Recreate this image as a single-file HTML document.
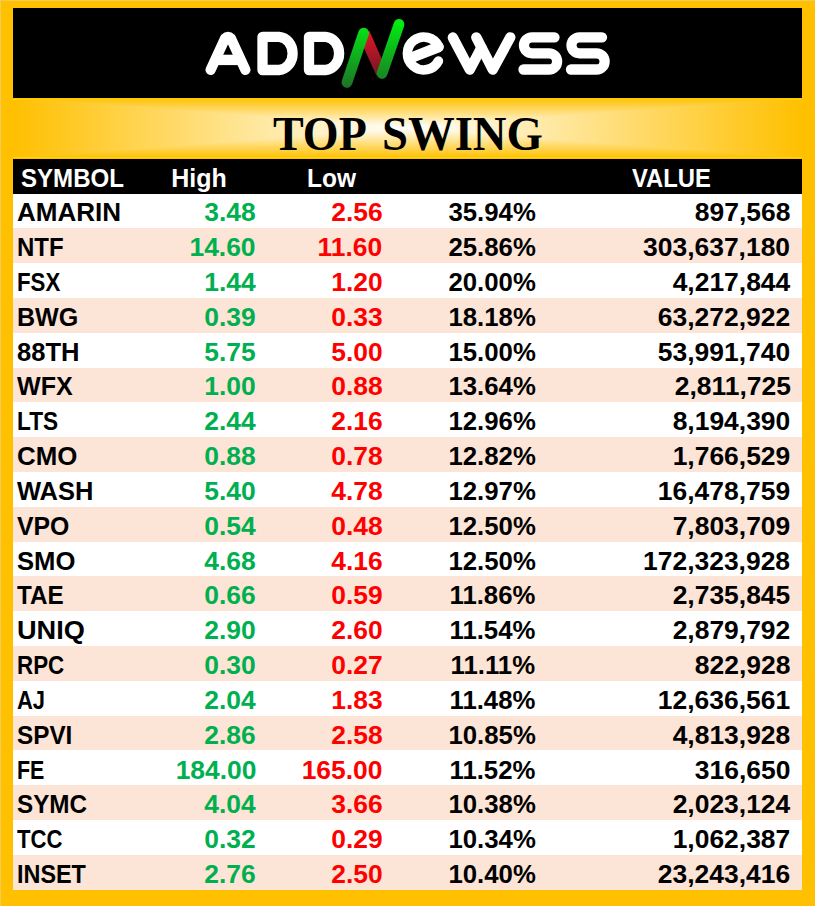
<!DOCTYPE html>
<html><head><meta charset="utf-8"><style>
*{margin:0;padding:0;box-sizing:border-box}
html,body{width:815px;height:906px;overflow:hidden;background:#FFC000}
body{position:relative;font-family:"Liberation Sans",sans-serif;font-weight:bold}
#edge{position:absolute;left:0;top:0;width:815px;height:906px;border-left:1px solid #F3CB5A;border-top:1px solid #F3CB5A}
#logo{position:absolute;left:13px;top:8px;width:789px;height:90.3px;background:#000}
.bl{position:absolute;left:13px;width:789px;height:1.2px;background:#FFD500}
#band{position:absolute;left:13px;top:98px;width:789px;height:60px}
.ti{position:absolute;top:109.5px;font-family:"Liberation Serif",serif;font-weight:bold;font-size:48px;line-height:48px;color:#000;transform-origin:0 50%;white-space:nowrap}
#hdr{position:absolute;left:12.5px;top:158.5px;width:789.5px;height:35.1px;background:#000}
.r{position:absolute;left:13px;width:789px;height:34.8px}
.p{background:#FCE4D6}
.w{background:#fff}
.t{position:absolute;font-size:25px;line-height:25px;white-space:nowrap}
.L{transform-origin:0 50%}
.R{transform-origin:100% 50%}
.n{transform:scaleX(1.057)}
.pc{transform:scaleX(1.03)}
.hd{color:#fff}
.g{color:#00B050}
.rd{color:#FF0000}
.k{color:#000}
</style></head>
<body>
<div id="edge"></div>
<div id="logo"></div>
<svg id="band" width="789" height="60" viewBox="0 0 789 60">
<defs>
<linearGradient id="bt" x1="0" y1="0" x2="0" y2="1"><stop offset="0" stop-color="#FFC000"/><stop offset="1" stop-color="#FFFFFF"/></linearGradient>
<linearGradient id="bb" x1="0" y1="0" x2="0" y2="1"><stop offset="0" stop-color="#FFFFFF"/><stop offset="1" stop-color="#FFC000"/></linearGradient>
<linearGradient id="bl" x1="0" y1="0" x2="1" y2="0"><stop offset="0" stop-color="#FFC000"/><stop offset="1" stop-color="#FFFFFF"/></linearGradient>
<linearGradient id="br" x1="0" y1="0" x2="1" y2="0"><stop offset="0" stop-color="#FFFFFF"/><stop offset="1" stop-color="#FFC000"/></linearGradient>
</defs>
<rect x="0" y="0" width="394.5" height="60" fill="url(#bl)"/>
<rect x="394.5" y="0" width="394.5" height="60" fill="url(#br)"/>
<polygon points="0,0 789,0 394.5,30" fill="url(#bt)"/>
<polygon points="0,60 789,60 394.5,30" fill="url(#bb)"/>
</svg>
<div class="ti" style="left:272.6px;transform:scaleX(0.959)">TOP</div>
<div class="ti" style="left:382.4px;transform:scaleX(0.973)">SWING</div>
<div class="bl" style="top:98.6px"></div>
<div class="bl" style="top:157.1px"></div>
<div id="hdr"></div>
<div class="t hd L" style="top:165.5px;left:20.5px;transform:scaleX(0.9625);">SYMBOL</div>
<div class="t hd L" style="top:165.5px;left:171.3px;">High</div>
<div class="t hd L" style="top:165.5px;left:307px;transform:scaleX(0.9800);">Low</div>
<div class="t hd L" style="top:165.5px;left:632px;transform:scaleX(0.9520);">VALUE</div>
<div class="r w" style="top:193.6px"></div>
<div class="t k L" style="top:200.3px;left:17px;transform:scaleX(1.0406);">AMARIN</div>
<div class="t g R n" style="top:200.3px;right:559.0px">3.48</div>
<div class="t rd R n" style="top:200.3px;right:432.5px">2.56</div>
<div class="t k R pc" style="top:200.3px;right:279.5px">35.94%</div>
<div class="t k R n" style="top:200.3px;right:24.5px">897,568</div>
<div class="r p" style="top:228.4px"></div>
<div class="t k L" style="top:235.3px;left:17px;transform:scaleX(0.9600);">NTF</div>
<div class="t g R n" style="top:235.3px;right:559.0px">14.60</div>
<div class="t rd R n" style="top:235.3px;right:432.5px">11.60</div>
<div class="t k R pc" style="top:235.3px;right:279.5px">25.86%</div>
<div class="t k R n" style="top:235.3px;right:24.5px">303,637,180</div>
<div class="r w" style="top:263.2px"></div>
<div class="t k L" style="top:270.3px;left:17px;transform:scaleX(0.8889);">FSX</div>
<div class="t g R n" style="top:270.3px;right:559.0px">1.44</div>
<div class="t rd R n" style="top:270.3px;right:432.5px">1.20</div>
<div class="t k R pc" style="top:270.3px;right:279.5px">20.00%</div>
<div class="t k R n" style="top:270.3px;right:24.5px">4,217,844</div>
<div class="r p" style="top:298.0px"></div>
<div class="t k L" style="top:305.3px;left:17px;transform:scaleX(1.0035);">BWG</div>
<div class="t g R n" style="top:305.3px;right:559.0px">0.39</div>
<div class="t rd R n" style="top:305.3px;right:432.5px">0.33</div>
<div class="t k R pc" style="top:305.3px;right:279.5px">18.18%</div>
<div class="t k R n" style="top:305.3px;right:24.5px">63,272,922</div>
<div class="r w" style="top:332.8px"></div>
<div class="t k L" style="top:340.3px;left:17px;transform:scaleX(1.0211);">88TH</div>
<div class="t g R n" style="top:340.3px;right:559.0px">5.75</div>
<div class="t rd R n" style="top:340.3px;right:432.5px">5.00</div>
<div class="t k R pc" style="top:340.3px;right:279.5px">15.00%</div>
<div class="t k R n" style="top:340.3px;right:24.5px">53,991,740</div>
<div class="r p" style="top:367.6px"></div>
<div class="t k L" style="top:374.3px;left:17px;transform:scaleX(1.0019);">WFX</div>
<div class="t g R n" style="top:374.3px;right:559.0px">1.00</div>
<div class="t rd R n" style="top:374.3px;right:432.5px">0.88</div>
<div class="t k R pc" style="top:374.3px;right:279.5px">13.64%</div>
<div class="t k R n" style="top:374.3px;right:24.5px">2,811,725</div>
<div class="r w" style="top:402.4px"></div>
<div class="t k L" style="top:409.3px;left:17px;transform:scaleX(0.9049);">LTS</div>
<div class="t g R n" style="top:409.3px;right:559.0px">2.44</div>
<div class="t rd R n" style="top:409.3px;right:432.5px">2.16</div>
<div class="t k R pc" style="top:409.3px;right:279.5px">12.96%</div>
<div class="t k R n" style="top:409.3px;right:24.5px">8,194,390</div>
<div class="r p" style="top:437.2px"></div>
<div class="t k L" style="top:444.3px;left:17px;transform:scaleX(1.0345);">CMO</div>
<div class="t g R n" style="top:444.3px;right:559.0px">0.88</div>
<div class="t rd R n" style="top:444.3px;right:432.5px">0.78</div>
<div class="t k R pc" style="top:444.3px;right:279.5px">12.82%</div>
<div class="t k R n" style="top:444.3px;right:24.5px">1,766,529</div>
<div class="r w" style="top:472.0px"></div>
<div class="t k L" style="top:479.3px;left:17px;transform:scaleX(1.0181);">WASH</div>
<div class="t g R n" style="top:479.3px;right:559.0px">5.40</div>
<div class="t rd R n" style="top:479.3px;right:432.5px">4.78</div>
<div class="t k R pc" style="top:479.3px;right:279.5px">12.97%</div>
<div class="t k R n" style="top:479.3px;right:24.5px">16,478,759</div>
<div class="r p" style="top:506.8px"></div>
<div class="t k L" style="top:514.3px;left:17px;transform:scaleX(0.9922);">VPO</div>
<div class="t g R n" style="top:514.3px;right:559.0px">0.54</div>
<div class="t rd R n" style="top:514.3px;right:432.5px">0.48</div>
<div class="t k R pc" style="top:514.3px;right:279.5px">12.50%</div>
<div class="t k R n" style="top:514.3px;right:24.5px">7,803,709</div>
<div class="r w" style="top:541.6px"></div>
<div class="t k L" style="top:549.3px;left:17px;transform:scaleX(1.0259);">SMO</div>
<div class="t g R n" style="top:549.3px;right:559.0px">4.68</div>
<div class="t rd R n" style="top:549.3px;right:432.5px">4.16</div>
<div class="t k R pc" style="top:549.3px;right:279.5px">12.50%</div>
<div class="t k R n" style="top:549.3px;right:24.5px">172,323,928</div>
<div class="r p" style="top:576.4px"></div>
<div class="t k L" style="top:583.3px;left:17px;transform:scaleX(0.9674);">TAE</div>
<div class="t g R n" style="top:583.3px;right:559.0px">0.66</div>
<div class="t rd R n" style="top:583.3px;right:432.5px">0.59</div>
<div class="t k R pc" style="top:583.3px;right:279.5px">11.86%</div>
<div class="t k R n" style="top:583.3px;right:24.5px">2,735,845</div>
<div class="r w" style="top:611.2px"></div>
<div class="t k L" style="top:618.3px;left:17px;transform:scaleX(1.0862);">UNIQ</div>
<div class="t g R n" style="top:618.3px;right:559.0px">2.90</div>
<div class="t rd R n" style="top:618.3px;right:432.5px">2.60</div>
<div class="t k R pc" style="top:618.3px;right:279.5px">11.54%</div>
<div class="t k R n" style="top:618.3px;right:24.5px">2,879,792</div>
<div class="r p" style="top:646.0px"></div>
<div class="t k L" style="top:653.3px;left:17px;transform:scaleX(0.8939);">RPC</div>
<div class="t g R n" style="top:653.3px;right:559.0px">0.30</div>
<div class="t rd R n" style="top:653.3px;right:432.5px">0.27</div>
<div class="t k R pc" style="top:653.3px;right:279.5px">11.11%</div>
<div class="t k R n" style="top:653.3px;right:24.5px">822,928</div>
<div class="r w" style="top:680.8px"></div>
<div class="t k L" style="top:688.3px;left:17px;transform:scaleX(0.8786);">AJ</div>
<div class="t g R n" style="top:688.3px;right:559.0px">2.04</div>
<div class="t rd R n" style="top:688.3px;right:432.5px">1.83</div>
<div class="t k R pc" style="top:688.3px;right:279.5px">11.48%</div>
<div class="t k R n" style="top:688.3px;right:24.5px">12,636,561</div>
<div class="r p" style="top:715.6px"></div>
<div class="t k L" style="top:723.3px;left:17px;transform:scaleX(0.9717);">SPVI</div>
<div class="t g R n" style="top:723.3px;right:559.0px">2.86</div>
<div class="t rd R n" style="top:723.3px;right:432.5px">2.58</div>
<div class="t k R pc" style="top:723.3px;right:279.5px">10.85%</div>
<div class="t k R n" style="top:723.3px;right:24.5px">4,813,928</div>
<div class="r w" style="top:750.4px"></div>
<div class="t k L" style="top:758.3px;left:17px;transform:scaleX(0.8571);">FE</div>
<div class="t g R n" style="top:758.3px;right:559.0px">184.00</div>
<div class="t rd R n" style="top:758.3px;right:432.5px">165.00</div>
<div class="t k R pc" style="top:758.3px;right:279.5px">11.52%</div>
<div class="t k R n" style="top:758.3px;right:24.5px">316,650</div>
<div class="r p" style="top:785.2px"></div>
<div class="t k L" style="top:792.3px;left:17px;transform:scaleX(0.9696);">SYMC</div>
<div class="t g R n" style="top:792.3px;right:559.0px">4.04</div>
<div class="t rd R n" style="top:792.3px;right:432.5px">3.66</div>
<div class="t k R pc" style="top:792.3px;right:279.5px">10.38%</div>
<div class="t k R n" style="top:792.3px;right:24.5px">2,023,124</div>
<div class="r w" style="top:820.0px"></div>
<div class="t k L" style="top:827.3px;left:17px;transform:scaleX(0.8837);">TCC</div>
<div class="t g R n" style="top:827.3px;right:559.0px">0.32</div>
<div class="t rd R n" style="top:827.3px;right:432.5px">0.29</div>
<div class="t k R pc" style="top:827.3px;right:279.5px">10.34%</div>
<div class="t k R n" style="top:827.3px;right:24.5px">1,062,387</div>
<div class="r p" style="top:854.8px"></div>
<div class="t k L" style="top:862.3px;left:17px;transform:scaleX(0.9357);">INSET</div>
<div class="t g R n" style="top:862.3px;right:559.0px">2.76</div>
<div class="t rd R n" style="top:862.3px;right:432.5px">2.50</div>
<div class="t k R pc" style="top:862.3px;right:279.5px">10.40%</div>
<div class="t k R n" style="top:862.3px;right:24.5px">23,243,416</div>
<svg style="position:absolute;left:0;top:0" width="815" height="100" viewBox="0 0 815 100">
<defs>
<linearGradient id="gg2" gradientUnits="userSpaceOnUse" x1="0" y1="20" x2="0" y2="88"><stop offset="0" stop-color="#00F010"/><stop offset="1" stop-color="#1E7228"/></linearGradient>
<linearGradient id="rg" gradientUnits="userSpaceOnUse" x1="0" y1="30" x2="0" y2="76"><stop offset="0" stop-color="#E8152A"/><stop offset="1" stop-color="#6E1820"/></linearGradient>
</defs>
<g fill="none" stroke="#fff" stroke-width="10.3" stroke-linecap="round" stroke-linejoin="round">
<path d="M210.6,69.8 L225.1,38.4 Q228,35.4 230.9,38.4 L245.4,69.8"/>
<path d="M216,59.9 H240" stroke-width="10.4" stroke-linecap="butt"/>
<path d="M262.5,36.85 H279.1 A14.3,16.6 0 0 1 279.1,70 H262.5 Z"/>
<path d="M309,36.85 H325.6 A14.3,16.6 0 0 1 325.6,70 H309 Z"/>
<path d="M438.6,46.4 A16.4,16.4 0 1 0 438.4,61" stroke-width="9.6"/>
<path d="M412.2,57.4 L438.6,47" stroke-width="10.6"/>
<path d="M452.8,37.5 L469.8,69.6 L481.4,47.6"/>
<path d="M476.3,37.3 L492.8,69.6 L510.3,37.3"/>
<path d="M554.5,37.3 H532 A8,8 0 0 0 532,53.3 H549 A8.1,8.1 0 0 1 549,69.5 H523.5"/>
<path d="M602,37.3 H579.5 A8,8 0 0 0 579.5,53.3 H596.5 A8.1,8.1 0 0 1 596.5,69.5 H571"/>
</g>
<polygon points="369.3,30.8 363.8,47.8 376.5,75.7 381.7,59" fill="url(#rg)"/>
<g fill="none" stroke="url(#gg2)" stroke-width="10.8" stroke-linecap="round">
<path d="M347,82.3 L363.7,33.1"/>
<path d="M382,73.5 L399,24.4"/>
</g>
</svg>

</body></html>
